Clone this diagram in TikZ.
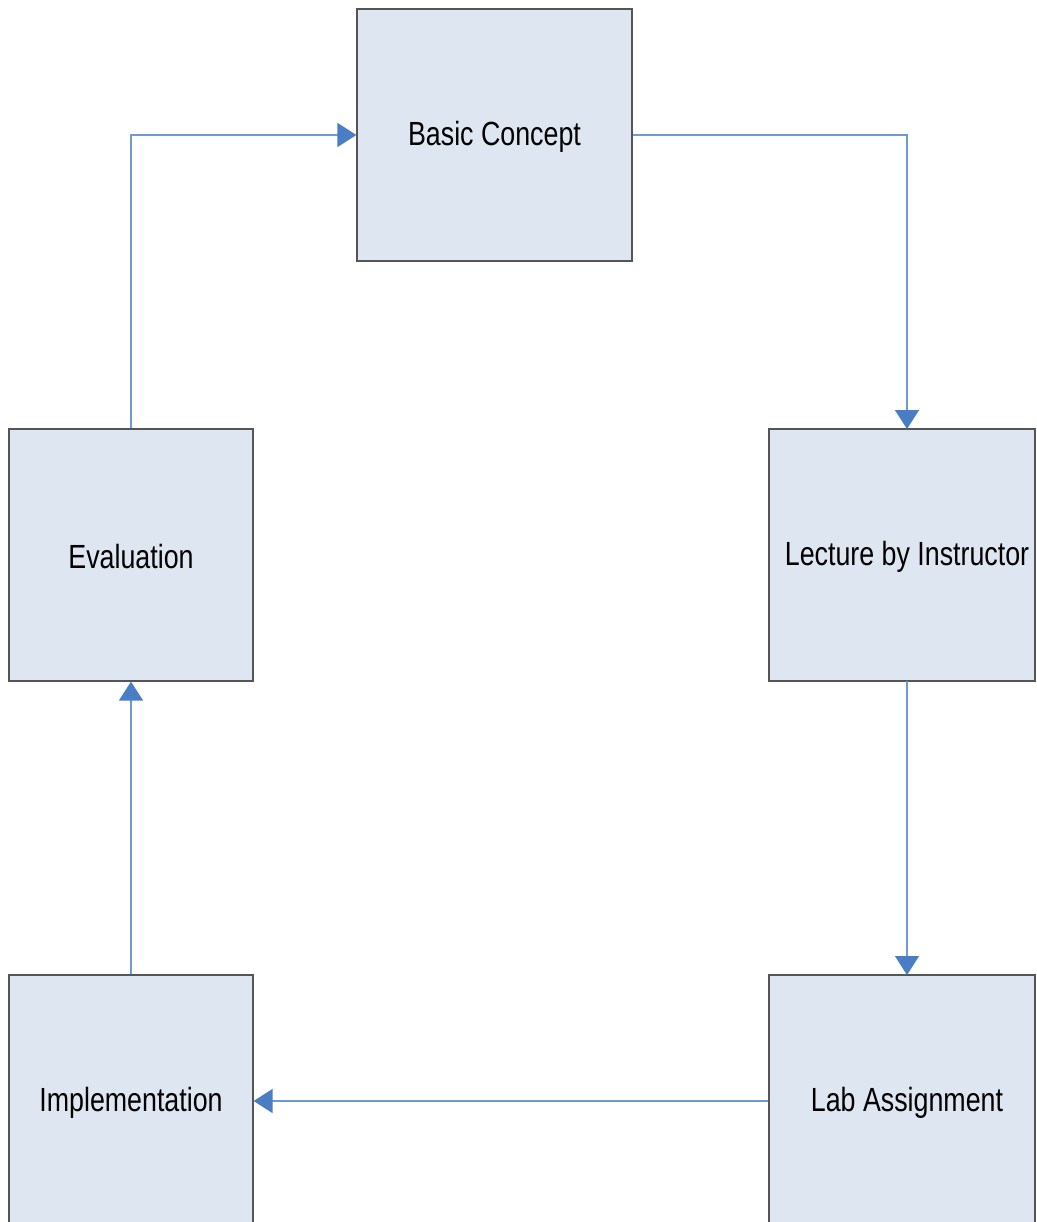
\documentclass[tikz,border=0pt]{standalone}
\usepackage{fontspec}
\setmainfont{Liberation Sans}[FakeStretch=0.8]
\usetikzlibrary{arrows.meta}
\definecolor{boxfill}{HTML}{DEE7F1}
\definecolor{boxline}{HTML}{555555}
\definecolor{flow}{HTML}{4A7EC4}
\definecolor{flowlight}{HTML}{6E9AD2}
\begin{document}
\begin{tikzpicture}[x=1pt,y=-1pt,
  stage/.style={draw=boxline,line width=1.2pt,fill=boxfill,rectangle,inner sep=0pt},
  label/.style={font=\fontsize{33.5}{40}\selectfont},
  flowline/.style={draw=flowlight,line width=1.3pt,
    -{Triangle[length=19pt,width=24pt,color=flow]}}]
\useasboundingbox (0,0) rectangle (1036,1222);
\clip (0,0) rectangle (1036,1222);
% stages
\node[stage,minimum width=275pt,minimum height=252pt] (basic) at (494.5,135) {};
\node[label] at (494.5,137) {Basic Concept};
\node[stage,minimum width=244pt,minimum height=252pt] (eval) at (131,555) {};
\node[label] at (131,557) {Evaluation};
\node[stage,minimum width=266pt,minimum height=252pt] (lect) at (902,555) {};
\node[label] at (907,557) {Lecture by Instructor};
\node[stage,minimum width=244pt,minimum height=252pt] (impl) at (131,1101) {};
\node[label] at (131,1103) {Implementation};
\node[stage,minimum width=266pt,minimum height=252pt] (lab) at (902,1101) {};
\node[label] at (907,1103) {Lab Assignment};
% connectors
\coordinate (c1) at (eval.north |- basic.west);
\coordinate (c2) at (907,135);
\coordinate (lt) at (907,429);
\coordinate (lb) at (907,681);
\coordinate (at) at (907,975);
\draw[flowline] (eval.north) -- (c1) -- (basic.west);
\draw[flowline] (basic.east) -- (c2) -- (lt);
\draw[flowline] (lb) -- (at);
\draw[flowline] (lab.west) -- (impl.east);
\draw[flowline] (impl.north) -- (eval.south);
\end{tikzpicture}
\end{document}
